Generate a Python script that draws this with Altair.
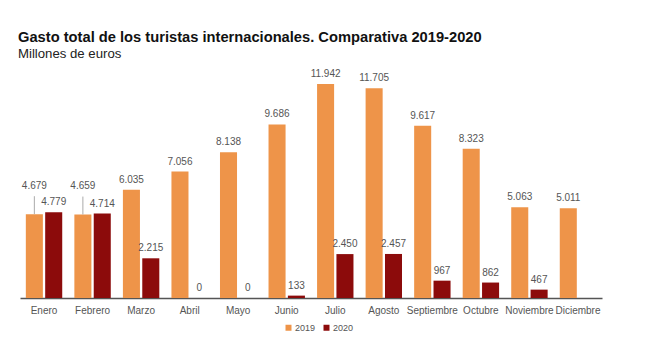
import altair as alt
import pandas as pd

months = ["Enero", "Febrero", "Marzo", "Abril", "Mayo", "Junio", "Julio",
          "Agosto", "Septiembre", "Octubre", "Noviembre", "Diciembre"]
v2019 = [4679, 4659, 6035, 7056, 8138, 9686, 11942, 11705, 9617, 8323, 5063, 5011]
v2020 = [4779, 4714, 2215, 0, 0, 133, 2450, 2457, 967, 862, 467, None]
lifted = ["Enero", "Febrero"]

rows = []
for m, a, b in zip(months, v2019, v2020):
    rows.append({"mes": m, "anio": "2019", "valor": a})
    if b is not None:
        rows.append({"mes": m, "anio": "2020", "valor": b})
df = pd.DataFrame(rows)

def fmt_es(v):
    return f"{int(v):,}".replace(",", ".")
df["etiqueta"] = df["valor"].apply(fmt_es)
df["lift"] = df.apply(lambda r: r["anio"] == "2019" and r["mes"] in lifted, axis=1)

colors = ["#EE9449", "#8C0B0B"]

x = alt.X("mes:N", sort=months, title=None,
          scale=alt.Scale(paddingInner=0.25, paddingOuter=0.12),
          axis=alt.Axis(labelAngle=0, ticks=False, domainColor="#555555",
                        domainWidth=1.5, labelColor="#555555", labelFontSize=10,
                        labelPadding=7, labelFont="Liberation Sans"))
xo = alt.XOffset("anio:N", scale=alt.Scale(paddingInner=0.12))
y = alt.Y("valor:Q", scale=alt.Scale(domain=[0, 13000]), axis=None)

base = alt.Chart(df).encode(x=x, xOffset=xo)

bars = base.mark_bar().encode(
    y=y,
    color=alt.Color("anio:N", scale=alt.Scale(range=colors), title=None,
                    legend=alt.Legend(orient="none", direction="horizontal",
                                      legendX=264, legendY=258,
                                      symbolType="square", symbolSize=36,
                                      labelFontSize=9, labelColor="#555555",
                                      labelFont="Liberation Sans", labelOffset=2,
                                      columnPadding=6, symbolStrokeWidth=0)),
)

labels = base.transform_filter("!datum.lift").mark_text(
    baseline="bottom", dy=-5, fontSize=10, color="#555555", font="Liberation Sans"
).encode(y=y, text="etiqueta:N")

labels_lift = base.transform_filter("datum.lift").mark_text(
    baseline="bottom", dy=-23, fontSize=10, color="#555555", font="Liberation Sans"
).encode(y=y, text="etiqueta:N")

leaders = base.transform_filter("datum.lift").transform_calculate(
    top="datum.valor + 1000"
).mark_rule(color="#AAAAAA", strokeWidth=1).encode(
    y=y, y2="top:Q"
)

chart = alt.layer(bars, leaders, labels, labels_lift).properties(
    width=582, height=233,
    padding={"left": 12, "top": 57, "right": 10, "bottom": 50},
    autosize=alt.AutoSizeParams(type="none"),
    title=alt.TitleParams(
        "Gasto total de los turistas internacionales. Comparativa 2019-2020",
        subtitle="Millones de euros",
        anchor="start", font="Liberation Sans", fontSize=14.7, fontWeight="bold",
        color="#111111", subtitleFont="Liberation Sans", subtitleFontSize=13.2,
        subtitleColor="#222222", offset=5, subtitlePadding=3, dx=-2,
    ),
).configure_view(stroke=None)

chart.save("out.html", embed_options={"renderer": "svg", "actions": False})
